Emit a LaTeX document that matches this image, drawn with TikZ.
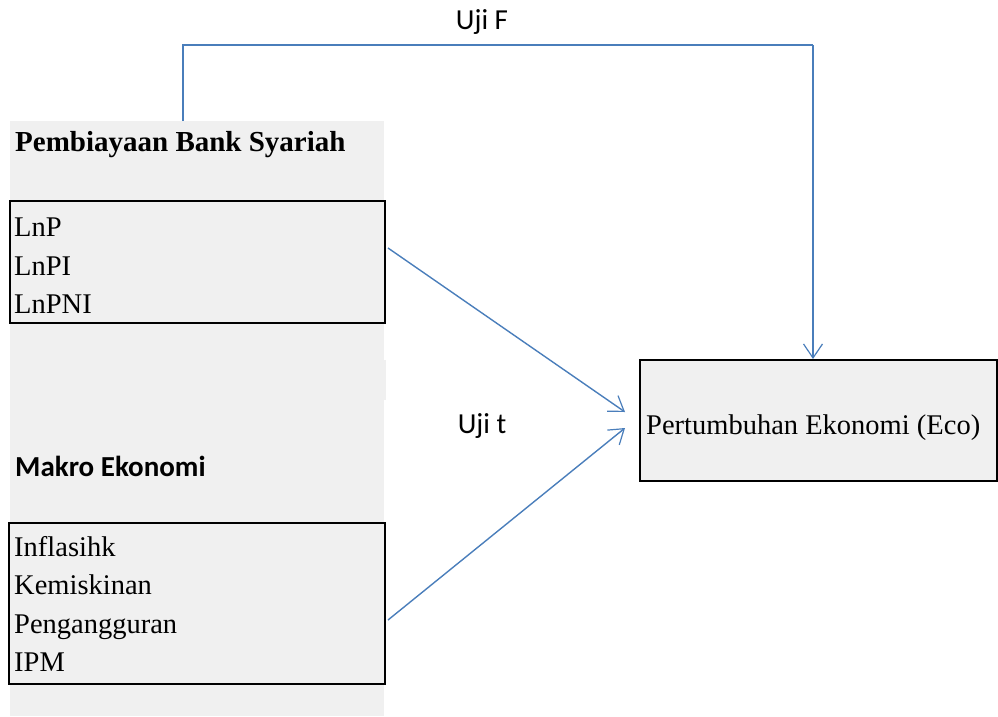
\documentclass[tikz,border=0pt]{standalone}
\usepackage{fontspec}
\setmainfont{Liberation Serif}
\newfontfamily\calibri{Carlito}
\usetikzlibrary{arrows.meta}
\definecolor{panelgray}{HTML}{F0F0F0}
\definecolor{linkblue}{HTML}{4A7EBB}
\tikzset{
  conn/.style={draw=linkblue, line width=1.4pt},
  arrowconn/.style={conn, -{Straight Barb[length=14pt,width=19pt,line width=1.2pt]}},
  varbox/.style={draw=black, line width=2pt, fill=panelgray, rectangle, inner sep=0pt},
  vartext/.style={inner sep=0pt, align=left, anchor=west, font=\fontsize{28.5}{38.5}\selectfont},
  serifhead/.style={font=\fontsize{29}{32}\selectfont\bfseries, inner sep=0pt, anchor=west},
  sanshead/.style={font=\calibri\fontsize{29}{32}\selectfont\bfseries, inner sep=0pt, anchor=west},
  sanslabel/.style={font=\calibri\fontsize{29}{32}\selectfont, inner sep=0pt}
}
\begin{document}
\begin{tikzpicture}[x=1pt,y=-1pt]
\useasboundingbox (0,0) rectangle (998,716);
% gray panel
\node[fill=panelgray, minimum width=374pt, minimum height=595pt, inner sep=0pt, anchor=north west] (panel) at (10,121) {};
\fill[panelgray] (384,360) rectangle (386,400);
% headings
\node[serifhead] (h1) at (15,145) {Pembiayaan Bank Syariah};
\node[sanshead] (h2) at (15,466) {Makro Ekonomi};
% variable boxes
\node[varbox, minimum width=375pt, minimum height=122pt] (b1) at (197.5,262) {};
\node[vartext] (b1t) at (14,266) {LnP\\LnPI\\LnPNI};
\node[varbox, minimum width=376pt, minimum height=161pt] (b2) at (197,603) {};
\node[vartext] (b2t) at (14,604) {Inflasihk\\Kemiskinan\\Pengangguran\\IPM};
% dependent
\node[varbox, minimum width=357pt, minimum height=121pt] (eco) at (818.5,420.5) {};
\node[vartext] (ecot) at (646,427.5) {Pertumbuhan Ekonomi (Eco)};
% labels
\node[sanslabel] (ujif) at (482,22) {Uji F};
\node[sanslabel] (ujit) at (482,426) {Uji t};
% connectors
\coordinate (fstart) at (183,121);
\coordinate (ftop) at (813,45);
\draw[conn] (fstart) |- (ftop);
\draw[arrowconn] (ftop) -- (ftop |- eco.north);
\coordinate (a1) at (388,248);
\coordinate (t1) at (625,412);
\coordinate (a2) at (388,620);
\coordinate (t2) at (625,428);
\draw[arrowconn] (a1) -- (t1);
\draw[arrowconn] (a2) -- (t2);
\end{tikzpicture}
\end{document}
